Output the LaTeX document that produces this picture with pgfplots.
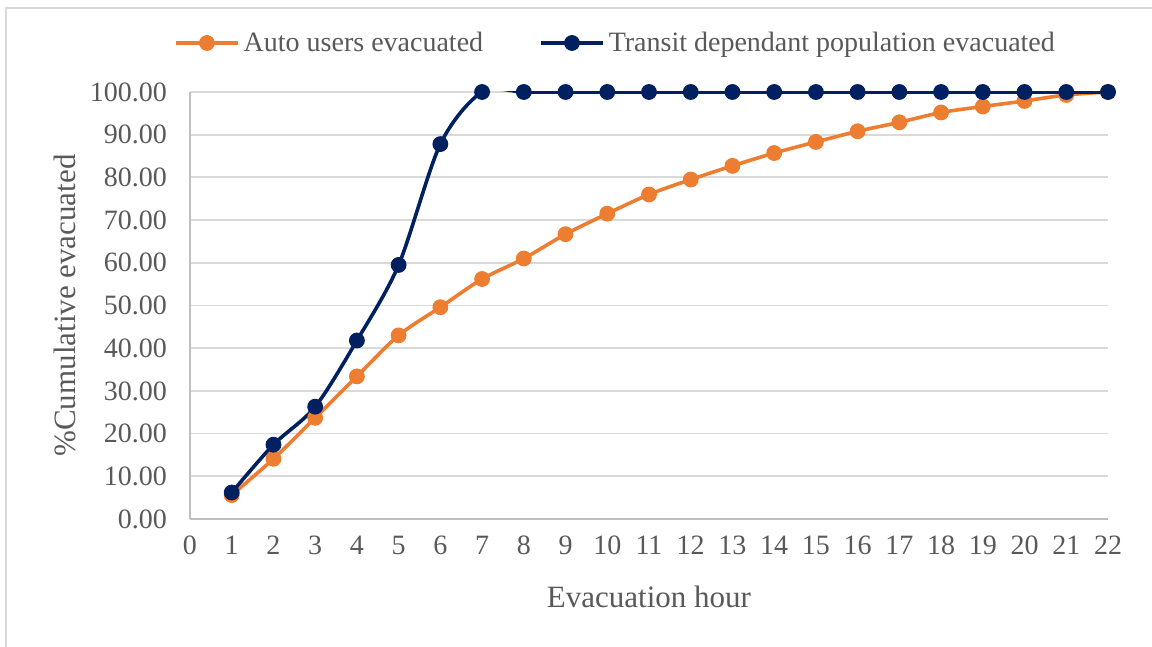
\documentclass[border=0pt]{standalone}
\usepackage{fontspec}
\setmainfont{Liberation Serif}
\usepackage{pgfplots}
\pgfplotsset{compat=1.18}
\definecolor{orng}{HTML}{ED7D31}
\definecolor{navy}{HTML}{002060}
\definecolor{txtgray}{HTML}{595959}
\definecolor{gridgray}{HTML}{D9D9D9}
\definecolor{axgray}{HTML}{BFBFBF}
\begin{document}
\begin{tikzpicture}
\useasboundingbox (0,0) rectangle (576pt,323.5pt);
\clip (0,0) rectangle (576pt,323.5pt);
\draw[color=gridgray, line width=1.2pt] (3pt,-10pt) -- (3pt,319.5pt) -- (590pt,319.5pt);
\begin{axis}[
  at={(95pt,64pt)}, anchor=south west,
  scale only axis, width=459pt, height=213.5pt,
  xmin=0, xmax=22, ymin=0, ymax=100,
  xtick={0,1,...,22}, ytick={0,10,...,100},
  axis lines*=left,
  axis line style={color=axgray, line width=1pt},
  ymajorgrids, grid style={color=gridgray, line width=0.9pt},
  major tick length=0pt,
  tick style={draw=none},
  /pgf/number format/assume math mode=true,
  ticklabel style={font=\fontsize{14}{16}\selectfont, text=txtgray},
  xticklabel style={yshift=-5pt},
  yticklabel style={xshift=-8pt, /pgf/number format/.cd, fixed, fixed zerofill, precision=2},
  xlabel={Evacuation hour},
  ylabel={\%Cumulative evacuated},
  label style={font=\fontsize{15.5}{18}\selectfont, text=txtgray},
  xlabel style={at={(axis description cs:0.5,-0.1827)}, anchor=center},
  ylabel style={at={(axis description cs:-0.1362,0.5)}, anchor=center},
  legend columns=2,
  legend style={at={(axis description cs:0.4646,1.1148)}, anchor=center, draw=none, fill=none,
    font=\fontsize{14}{16}\selectfont, text=txtgray,
    /tikz/every even column/.append style={column sep=26pt}},
  legend image code/.code={\draw[mark repeat=2,mark phase=2] plot coordinates {(0pt,0pt)(15.5pt,0pt)(31pt,0pt)};},
  every axis plot/.append style={line width=1.8pt, smooth, mark=*, mark size=3.7pt},
]
\addplot[color=orng, mark options={fill=orng, draw=orng, line width=0.5pt}] coordinates {
(1,5.6)(2,14.1)(3,23.7)(4,33.4)(5,43.0)(6,49.6)(7,56.2)(8,61.0)(9,66.7)(10,71.5)(11,76.0)
(12,79.5)(13,82.7)(14,85.7)(15,88.3)(16,90.8)(17,92.9)(18,95.2)(19,96.6)(20,97.9)(21,99.3)(22,100)};
\addlegendentry{Auto users evacuated}
\addplot[color=navy, mark options={fill=navy, draw=navy, line width=0.5pt}] coordinates {
(1,6.2)(2,17.4)(3,26.3)(4,41.8)(5,59.5)(6,87.8)(7,100)(8,100)(9,100)(10,100)(11,100)
(12,100)(13,100)(14,100)(15,100)(16,100)(17,100)(18,100)(19,100)(20,100)(21,100)(22,100)};
\addlegendentry{Transit dependant population evacuated}
\end{axis}
\end{tikzpicture}
\end{document}
